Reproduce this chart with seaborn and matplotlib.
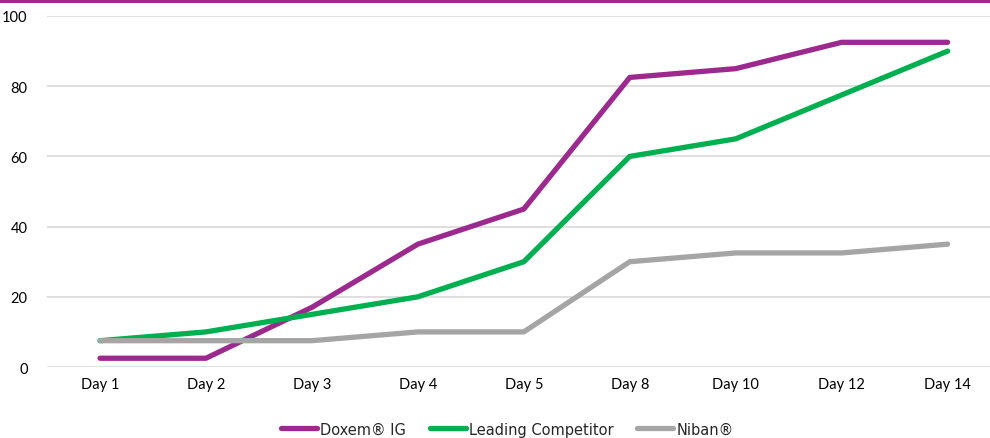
import numpy as np
import pandas as pd
import seaborn as sns
import matplotlib.pyplot as plt
from matplotlib.patches import Rectangle

# data
days = ['Day 1', 'Day 2', 'Day 3', 'Day 4', 'Day 5', 'Day 8', 'Day 10', 'Day 12', 'Day 14']
doxem = [2.5, 2.5, 17, 35, 45, 82.5, 85, 92.5, 92.5]
competitor = [7.5, 10, 15, 20, 30, 60, 65, 77.5, 90]
niban = [7.5, 7.5, 7.5, 10, 10, 30, 32.5, 32.5, 35]
series_names = ['Doxem® IG', 'Leading Competitor', 'Niban®']
colors = ['#9C2A8E', '#00B050', '#A5A5A5']

df = pd.DataFrame({
    'day': days * 3,
    'value': doxem + competitor + niban,
    'series': [series_names[0]] * 9 + [series_names[1]] * 9 + [series_names[2]] * 9,
})

sns.set_style('white')
plt.rcParams['font.family'] = ['Lato', 'DejaVu Sans']

fig = plt.figure(figsize=(9.9, 4.39), dpi=100)
ax = fig.add_axes([0.0475, 0.1617, 0.9525, 0.7996])

sns.lineplot(data=df, x='day', y='value', hue='series', palette=colors,
             linewidth=3.8, sort=False, ax=ax, legend=True)
for ln in ax.get_lines():
    ln.set_solid_capstyle('round')
    ln.set_solid_joinstyle('round')

ax.set_ylim(0, 100)
ax.set_xlim(-0.5, 8.40)
ax.set_yticks(np.arange(0, 101, 20))
ax.yaxis.grid(True, color='#D9D9D9', linewidth=1.2)
ax.set_axisbelow(True)
for s in ax.spines.values():
    s.set_visible(False)
ax.tick_params(axis='both', length=0, labelsize=10.5, colors='#000000')
ax.tick_params(axis='y', pad=14)
ax.tick_params(axis='x', pad=7)
ax.set_xlabel('')
ax.set_ylabel('')

leg = ax.legend(loc='upper center', bbox_to_anchor=(0.488, -0.118), ncol=3,
                frameon=False, prop={'family': 'DejaVu Sans', 'size': 10.5},
                handlelength=2.5, handletextpad=0.2, columnspacing=1.6)
for h in leg.get_lines():
    h.set_linewidth(3.8)
    h.set_solid_capstyle('round')

# purple band at the top edge
fig.add_artist(Rectangle((0, 1 - 4 / 439), 1, 4 / 439, transform=fig.transFigure,
                         color='#9C2A8E', lw=0))

fig.savefig('out.png', dpi=100)
